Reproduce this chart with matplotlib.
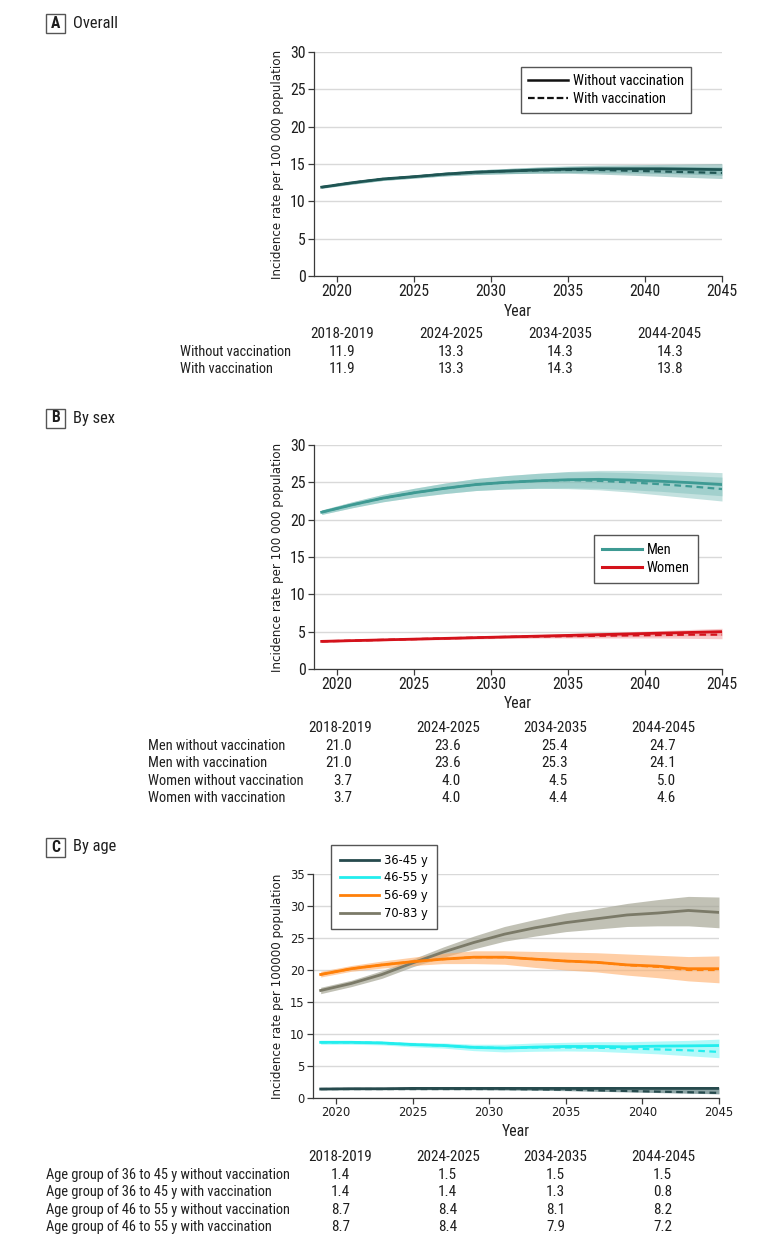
import os
import matplotlib
matplotlib.use("Agg")
import matplotlib.pyplot as plt
from matplotlib.patches import Rectangle
from matplotlib.lines import Line2D
from matplotlib import font_manager as fm
from matplotlib.textpath import TextPath

# ---------------- data ----------------
years = [2019, 2021, 2023, 2025, 2027, 2029, 2031, 2033, 2035, 2037, 2039, 2041, 2043, 2045]

# Panel A – overall
a_without = [11.9, 12.5, 13.0, 13.3, 13.65, 13.9, 14.05, 14.2, 14.3, 14.35, 14.35, 14.35, 14.3, 14.25]
a_without_lo = [11.75, 12.3, 12.8, 13.1, 13.4, 13.6, 13.7, 13.8, 13.85, 13.85, 13.8, 13.75, 13.65, 13.5]
a_without_hi = [12.05, 12.7, 13.2, 13.5, 13.9, 14.2, 14.4, 14.6, 14.75, 14.85, 14.9, 14.95, 15.0, 15.05]
a_with = [11.9, 12.5, 13.0, 13.3, 13.65, 13.9, 14.05, 14.15, 14.2, 14.2, 14.1, 14.0, 13.9, 13.8]
a_with_lo = [11.75, 12.3, 12.8, 13.1, 13.4, 13.6, 13.7, 13.75, 13.75, 13.65, 13.5, 13.35, 13.2, 13.05]
a_with_hi = [12.05, 12.7, 13.2, 13.5, 13.9, 14.2, 14.4, 14.55, 14.65, 14.7, 14.7, 14.7, 14.65, 14.6]

# Panel B – by sex
men_without = [21.0, 22.0, 22.9, 23.6, 24.2, 24.7, 25.0, 25.2, 25.35, 25.4, 25.3, 25.15, 24.95, 24.7]
men_without_lo = [20.7, 21.6, 22.4, 23.0, 23.5, 23.9, 24.1, 24.2, 24.25, 24.2, 24.0, 23.8, 23.5, 23.2]
men_without_hi = [21.3, 22.4, 23.4, 24.2, 24.9, 25.5, 25.9, 26.2, 26.45, 26.6, 26.6, 26.55, 26.45, 26.3]
men_with = [21.0, 22.0, 22.9, 23.6, 24.2, 24.7, 25.0, 25.2, 25.3, 25.2, 25.0, 24.75, 24.45, 24.1]
men_with_lo = [20.7, 21.6, 22.4, 23.0, 23.5, 23.9, 24.1, 24.2, 24.15, 24.0, 23.7, 23.3, 22.9, 22.5]
men_with_hi = [21.3, 22.4, 23.4, 24.2, 24.9, 25.5, 25.9, 26.2, 26.4, 26.4, 26.3, 26.1, 25.9, 25.7]

women_without = [3.7, 3.8, 3.9, 4.0, 4.1, 4.2, 4.3, 4.4, 4.5, 4.6, 4.7, 4.8, 4.9, 5.0]
women_without_lo = [3.6, 3.7, 3.8, 3.9, 3.95, 4.05, 4.1, 4.2, 4.25, 4.3, 4.35, 4.4, 4.45, 4.5]
women_without_hi = [3.8, 3.9, 4.0, 4.1, 4.25, 4.35, 4.5, 4.6, 4.75, 4.9, 5.0, 5.15, 5.3, 5.45]
women_with = [3.7, 3.8, 3.9, 4.0, 4.1, 4.2, 4.3, 4.35, 4.4, 4.45, 4.5, 4.55, 4.6, 4.6]
women_with_lo = [3.6, 3.7, 3.8, 3.9, 3.95, 4.05, 4.1, 4.15, 4.15, 4.15, 4.15, 4.15, 4.1, 4.05]
women_with_hi = [3.8, 3.9, 4.0, 4.1, 4.25, 4.35, 4.5, 4.55, 4.65, 4.75, 4.85, 4.95, 5.05, 5.15]

# Panel C – by age
age36_without = [1.4, 1.45, 1.45, 1.5, 1.5, 1.5, 1.5, 1.5, 1.5, 1.5, 1.5, 1.5, 1.5, 1.5]
age36_with = [1.4, 1.4, 1.4, 1.4, 1.4, 1.4, 1.4, 1.35, 1.3, 1.2, 1.1, 1.0, 0.9, 0.8]
age36_lo = [1.3, 1.3, 1.3, 1.3, 1.3, 1.3, 1.25, 1.2, 1.15, 1.05, 0.95, 0.85, 0.75, 0.65]
age36_hi = [1.5, 1.55, 1.55, 1.6, 1.6, 1.6, 1.6, 1.6, 1.6, 1.65, 1.65, 1.7, 1.7, 1.7]

age46_without = [8.7, 8.7, 8.6, 8.35, 8.2, 7.9, 7.8, 7.95, 8.05, 8.05, 8.0, 8.1, 8.15, 8.2]
age46_with = [8.7, 8.7, 8.6, 8.35, 8.2, 7.9, 7.8, 7.9, 7.9, 7.85, 7.75, 7.6, 7.45, 7.2]
age46_lo = [8.4, 8.4, 8.3, 8.0, 7.8, 7.4, 7.2, 7.3, 7.35, 7.3, 7.1, 6.9, 6.6, 6.3]
age46_hi = [9.0, 9.0, 8.9, 8.7, 8.6, 8.4, 8.4, 8.6, 8.7, 8.8, 8.8, 8.9, 9.0, 9.2]

age56_without = [19.3, 20.2, 20.8, 21.3, 21.7, 22.0, 22.0, 21.7, 21.4, 21.2, 20.8, 20.6, 20.2, 20.2]
age56_with = [19.3, 20.2, 20.8, 21.3, 21.7, 22.0, 22.0, 21.7, 21.4, 21.2, 20.75, 20.5, 20.0, 20.0]
age56_lo = [18.9, 19.8, 20.3, 20.7, 21.0, 21.0, 20.9, 20.4, 20.0, 19.7, 19.2, 18.8, 18.3, 18.0]
age56_hi = [19.8, 20.7, 21.4, 22.0, 22.6, 23.0, 23.0, 22.9, 22.8, 22.7, 22.5, 22.3, 22.1, 22.2]

age70_without = [16.8, 17.9, 19.3, 21.1, 22.8, 24.3, 25.6, 26.6, 27.4, 28.0, 28.6, 28.9, 29.3, 29.0]
age70_lo = [16.3, 17.4, 18.7, 20.5, 22.0, 23.3, 24.5, 25.3, 26.0, 26.4, 26.8, 26.9, 26.9, 26.6]
age70_hi = [17.3, 18.4, 19.9, 21.7, 23.6, 25.3, 26.8, 27.9, 28.9, 29.6, 30.4, 31.0, 31.5, 31.4]

# Tables
periods = ["2018-2019", "2024-2025", "2034-2035", "2044-2045"]
tabA_rows = ["Without vaccination", "With vaccination"]
tabA_vals = [["11.9", "13.3", "14.3", "14.3"], ["11.9", "13.3", "14.3", "13.8"]]
tabB_rows = ["Men without vaccination", "Men with vaccination",
             "Women without vaccination", "Women with vaccination"]
tabB_vals = [["21.0", "23.6", "25.4", "24.7"], ["21.0", "23.6", "25.3", "24.1"],
             ["3.7", "4.0", "4.5", "5.0"], ["3.7", "4.0", "4.4", "4.6"]]
tabC_rows = ["Age group of 36 to 45 y without vaccination", "Age group of 36 to 45 y with vaccination",
             "Age group of 46 to 55 y without vaccination", "Age group of 46 to 55 y with vaccination"]
tabC_vals = [["1.4", "1.5", "1.5", "1.5"], ["1.4", "1.4", "1.3", "0.8"],
             ["8.7", "8.4", "8.1", "8.2"], ["8.7", "8.4", "7.9", "7.2"]]

# ---------------- fonts ----------------
def find_font(basenames):
    lookup = {os.path.basename(f.fname): f.fname for f in fm.fontManager.ttflist}
    for b in basenames:
        if b in lookup:
            return lookup[b]
    return None


narrow_path = find_font(["LiberationSansNarrow-Regular.ttf", "RobotoCondensed-Regular.ttf",
                         "OpenSans_Condensed-Regular.ttf", "OpenSansCondensed-Regular.ttf",
                         "DejaVuSansCondensed.ttf"])
narrow_bold_path = find_font(["LiberationSansNarrow-Bold.ttf", "RobotoCondensed-Bold.ttf",
                              "DejaVuSansCondensed-Bold.ttf"])


def fprop(path, fallback_family, size, weight="normal"):
    if path:
        return fm.FontProperties(fname=path, size=size)
    return fm.FontProperties(family=fallback_family, size=size, weight=weight)


def fit(path, fam, text, target_px, maxsize=11.5):
    p = fprop(path, fam, 10)
    w = TextPath((0, 0), text, size=10, prop=p).get_extents().width * 100 / 72
    return min(maxsize, 10 * target_px / w)


NFAM = "Roboto"
TXT = fit(narrow_path, NFAM, "Without vaccination", 111)
NUM = fit(narrow_path, NFAM, "2018-2019", 62)
TICK = fit(narrow_path, NFAM, "2020", 29.5)
TITLE = fit(narrow_path, NFAM, "Overall", 43, 13)
CTICK = 8.3
CLEG = 8.3


def NP(size):
    return fprop(narrow_path, NFAM, size)


def CP(size):
    return fm.FontProperties(family="DejaVu Sans", size=size)


W, H = 780, 1245
fig = plt.figure(figsize=(W / 100, H / 100), dpi=100)
TC = "#1e1e1e"


def fx(x):
    return x / W


def fy(y):
    return 1 - y / H


def make_axes(left, right, top, bottom):
    return fig.add_axes([fx(left), fy(bottom), (right - left) / W, (bottom - top) / H])


def style_axes(ax, ymax, step, tickprop):
    ax.set_xlim(2018.5, 2045)
    ax.set_ylim(0, ymax)
    ax.set_yticks(range(0, ymax + 1, step))
    ax.set_xticks([2020, 2025, 2030, 2035, 2040, 2045])
    for s in ["top", "right"]:
        ax.spines[s].set_visible(False)
    for s in ["left", "bottom"]:
        ax.spines[s].set_color("#3a3a3a")
        ax.spines[s].set_linewidth(0.9)
    ax.grid(axis="y", color="#d9d9d9", lw=1.0)
    ax.set_axisbelow(True)
    ax.tick_params(direction="out", length=4, width=0.9, color="#3a3a3a", pad=2, labelcolor=TC)
    for lab in ax.get_xticklabels() + ax.get_yticklabels():
        lab.set_fontproperties(tickprop)
    ax.set_ylabel(ax.get_ylabel(), family="DejaVu Sans", fontsize=8.6, color=TC, labelpad=4)
    ax.set_xlabel("Year", fontproperties=NP(TICK), color=TC, labelpad=3)


def panel_label(letter, title, y):
    fig.patches.append(Rectangle((fx(46), fy(y + 10)), 19 / W, 19 / H, transform=fig.transFigure,
                                 fill=False, edgecolor="#555555", lw=1.0))
    fig.text(fx(55.5), fy(y), letter, ha="center", va="center",
             fontproperties=fprop(narrow_bold_path, NFAM, TITLE * 0.95, "bold"), color=TC)
    fig.text(fx(73), fy(y), title, ha="left", va="center", fontproperties=NP(TITLE), color=TC)


def table(rows, vals, label_x, header_y, row_dy, right_edges, header_centers):
    for c, p in zip(header_centers, periods):
        fig.text(fx(c), fy(header_y), p, ha="center", va="center", fontproperties=NP(NUM), color=TC)
    for i, (r, v) in enumerate(zip(rows, vals)):
        yy = header_y + row_dy * (i + 1)
        fig.text(fx(label_x), fy(yy), r, ha="left", va="center", fontproperties=NP(TXT), color=TC)
        for re_, val in zip(right_edges, v):
            fig.text(fx(re_), fy(yy), val, ha="right", va="center", fontproperties=NP(NUM), color=TC)


def leg_frame(leg):
    fr = leg.get_frame()
    fr.set_edgecolor("#555555")
    fr.set_linewidth(1.0)
    fr.set_boxstyle("square", pad=0)


def em_px(size):
    return size * 100 / 72


# ---------------- Panel A ----------------
panel_label("A", "Overall", 23)
axA = make_axes(314, 722, 52, 276)
axA.set_ylabel("Incidence rate per 100 000 population")
colA_line = "#1f5553"
colA_band = "#5a9e9a"
axA.fill_between(years, a_without_lo, a_without_hi, color=colA_band, alpha=0.45, lw=0)
axA.fill_between(years, a_with_lo, a_with_hi, color=colA_band, alpha=0.45, lw=0)
axA.plot(years, a_without, color=colA_line, lw=2.0)
axA.plot(years, a_with, color=colA_line, lw=1.6, ls=(0, (3, 2)))
style_axes(axA, 30, 5, NP(TICK))
hA = [Line2D([], [], color="#111111", lw=1.8), Line2D([], [], color="#111111", lw=1.6, ls=(0, (3, 1.3)))]
legA = axA.legend(hA, ["Without vaccination", "With vaccination"], loc="upper left",
                  bbox_to_anchor=(fx(521), fy(67)), bbox_transform=fig.transFigure,
                  fancybox=False, framealpha=1, handlelength=40 / em_px(TXT), handletextpad=0.35,
                  borderpad=0.5, labelspacing=0.25, prop=NP(TXT), borderaxespad=0)
leg_frame(legA)
table(tabA_rows, tabA_vals, 180, 334, 17.5, [355, 464, 573, 683], [342, 451, 560, 669])

# ---------------- Panel B ----------------
panel_label("B", "By sex", 418)
axB = make_axes(314, 722, 445, 669)
axB.set_ylabel("Incidence rate per 100 000 population")
men_line, men_band = "#3e9a93", "#7bbdb8"
wom_line, wom_band = "#d4121b", "#ef8a8d"
axB.fill_between(years, men_without_lo, men_without_hi, color=men_band, alpha=0.45, lw=0)
axB.fill_between(years, men_with_lo, men_with_hi, color=men_band, alpha=0.45, lw=0)
axB.fill_between(years, women_without_lo, women_without_hi, color=wom_band, alpha=0.45, lw=0)
axB.fill_between(years, women_with_lo, women_with_hi, color=wom_band, alpha=0.45, lw=0)
axB.plot(years, men_without, color=men_line, lw=2.0)
axB.plot(years, men_with, color=men_line, lw=1.6, ls=(0, (3, 2)))
axB.plot(years, women_without, color=wom_line, lw=2.0)
axB.plot(years, women_with, color=wom_line, lw=1.6, ls=(0, (3, 2)))
style_axes(axB, 30, 5, NP(TICK))
hB = [Line2D([], [], color=men_line, lw=2.2), Line2D([], [], color=wom_line, lw=2.2)]
legB = axB.legend(hB, ["Men", "Women"], loc="upper left",
                  bbox_to_anchor=(fx(594), fy(535)), bbox_transform=fig.transFigure,
                  fancybox=False, framealpha=1, handlelength=40 / em_px(TXT), handletextpad=0.35,
                  borderpad=0.55, labelspacing=0.3, prop=NP(TXT), borderaxespad=0)
leg_frame(legB)
table(tabB_rows, tabB_vals, 148, 728, 17.6, [352, 461, 568, 676], [340, 448, 555, 663])

# ---------------- Panel C ----------------
panel_label("C", "By age", 847)
axC = make_axes(313, 719, 874, 1098)
axC.set_ylabel("Incidence rate per 100000 population")
c36, c46, c56, c70 = "#264a4d", "#22eeee", "#ff8009", "#7b7a68"
axC.fill_between(years, age70_lo, age70_hi, color="#a7a796", alpha=0.7, lw=0)
axC.fill_between(years, age56_lo, age56_hi, color="#ffae6a", alpha=0.6, lw=0)
axC.fill_between(years, age46_lo, age46_hi, color="#7ff6f6", alpha=0.6, lw=0)
axC.fill_between(years, age36_lo, age36_hi, color="#40676a", alpha=0.6, lw=0)
axC.plot(years, age70_without, color=c70, lw=2.0)
axC.plot(years, age56_without, color=c56, lw=2.0)
axC.plot(years, age56_with, color=c56, lw=1.6, ls=(0, (3, 2)))
axC.plot(years, age46_without, color=c46, lw=2.0)
axC.plot(years, age46_with, color=c46, lw=1.6, ls=(0, (3, 2)))
axC.plot(years, age36_without, color=c36, lw=2.0)
axC.plot(years, age36_with, color=c36, lw=1.6, ls=(0, (3, 2)))
style_axes(axC, 35, 5, CP(CTICK))
hC = [Line2D([], [], color=c, lw=2.0) for c in (c36, c46, c56, c70)]
legC = axC.legend(hC, ["36-45 y", "46-55 y", "56-69 y", "70-83 y"], loc="upper left",
                  bbox_to_anchor=(fx(331), fy(845)), bbox_transform=fig.transFigure,
                  fancybox=False, framealpha=1, handlelength=39 / em_px(CLEG), handletextpad=0.5,
                  borderpad=0.75, labelspacing=0.42, prop=CP(CLEG), borderaxespad=0)
leg_frame(legC)
table(tabC_rows, tabC_vals, 46, 1157, 17.6, [350, 457, 565, 672], [340, 448, 555, 663])

fig.savefig("out.png", dpi=100)
